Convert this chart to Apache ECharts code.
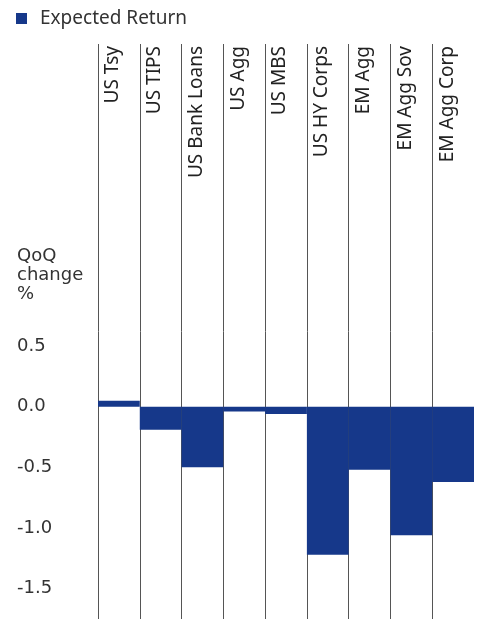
<!DOCTYPE html>
<html>
<head>
<meta charset="utf-8">
<script src="https://cdn.jsdelivr.net/npm/echarts@6/dist/echarts.min.js"></script>
<style>
html,body{margin:0;padding:0;background:#fff;}
#chart{width:480px;height:619px;}
</style>
</head>
<body>
<div id="chart"></div>
<script>
var categories = ['US Tsy','US TIPS','US Bank Loans','US Agg','US MBS','US HY Corps','EM Agg','EM Agg Sov','EM Agg Corp'];
var expectedReturn = [0.05, -0.19, -0.50, -0.04, -0.06, -1.22, -0.52, -1.06, -0.62];
var yTickLabels = [0.5, 0.0, -0.5, -1.0, -1.5];
var seriesName = 'Expected Return';
var yAxisTitle = 'QoQ\nchange\n%';

var chart = echarts.init(document.getElementById('chart'));
chart.setOption({
  animation: false,
  backgroundColor: '#fff',
  legend: {
    left: 16, top: 9, padding: 0,
    icon: 'rect', itemWidth: 11, itemHeight: 11,
    textStyle: {fontFamily: 'Noto Sans', fontSize: 19, color: '#333', padding: [0,0,0,8]},
    data: [seriesName]
  },
  graphic: [{
    type: 'text', left: 17, top: 247,
    style: {text: yAxisTitle, fontFamily: 'DejaVu Sans', fontSize: 18, lineHeight: 19, fill: '#333'}
  }],
  grid: {left: 98, right: 6, top: 44, height: 578, containLabel: false},
  xAxis: {
    type: 'category', position: 'top', data: categories,
    axisLine: {show: false}, axisTick: {show: false},
    axisLabel: {inside: true, rotate: 90, margin: 2, fontFamily: 'Noto Sans', fontSize: 19, color: '#222', interval: 0, verticalAlign: 'bottom', lineHeight: 12},
    splitLine: {show: true, showMaxLine: false, lineStyle: {color: '#555', width: 1}}
  },
  yAxis: {
    type: 'value', min: -1.75, max: 2.99, interval: 0.25,
    axisLine: {show: false}, axisTick: {show: false}, splitLine: {show: false},
    axisLabel: {
      align: 'left', margin: 81, fontFamily: 'DejaVu Sans', fontSize: 18, color: '#333',
      formatter: function (v) {
        for (var i = 0; i < yTickLabels.length; i++) {
          if (Math.abs(v - yTickLabels[i]) < 1e-6) return yTickLabels[i].toFixed(1);
        }
        return '';
      }
    }
  },
  series: [{
    name: seriesName, type: 'bar', data: expectedReturn,
    barCategoryGap: '0%', itemStyle: {color: '#16388a'}
  }]
});
</script>
</body>
</html>
